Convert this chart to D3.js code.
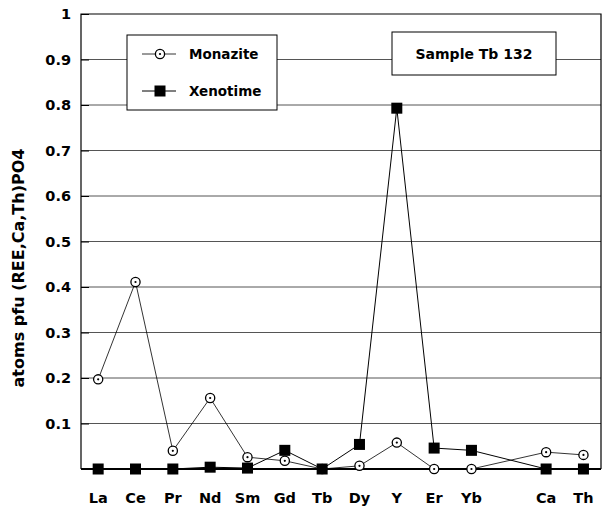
<!DOCTYPE html>
<html><head><meta charset="utf-8">
<script src="https://cdn.jsdelivr.net/npm/d3@7"></script>
<style>body{margin:0;background:#fff}svg{display:block}text{font-family:"DejaVu Sans",Arial,sans-serif;font-weight:bold;fill:#000}</style>
</head><body><svg id="c" width="602" height="508"></svg>
<script>
const categories = ["La","Ce","Pr","Nd","Sm","Gd","Tb","Dy","Y","Er","Yb","Ca","Th"];
const slots = [0,1,2,3,4,5,6,7,8,9,10,12,13];
const monazite = [0.197,0.411,0.040,0.156,0.026,0.018,0.000,0.007,0.058,0.000,0.000,0.037,0.031];
const xenotime = [0.000,0.000,0.000,0.004,0.002,0.041,0.000,0.054,0.793,0.046,0.041,0.000,0.000];
const yTicks = [0.1,0.2,0.3,0.4,0.5,0.6,0.7,0.8,0.9,1];
const seriesNames = ["Monazite","Xenotime"];
const sampleLabel = "Sample Tb 132";
const yTitle = "atoms pfu (REE,Ca,Th)PO4";

const svg = d3.select("#c");
const L=81,R=601,T=14,B=469;
const x = d3.scaleLinear().domain([-0.46,13.47]).range([L,R]);
const y = d3.scaleLinear().domain([0,1]).range([B,T]);

// gridlines
svg.append("g").selectAll("line").data(yTicks.filter(d=>d<1)).join("line")
  .attr("x1",L).attr("x2",R).attr("y1",d=>y(d)).attr("y2",d=>y(d))
  .attr("stroke","#555").attr("stroke-width",1);

// frame
svg.append("path").attr("d",`M${L},${B}V${T}H${R}V${B}`).attr("fill","none").attr("stroke","#000").attr("stroke-width",1.2);
svg.append("line").attr("x1",L).attr("x2",R).attr("y1",B).attr("y2",B).attr("stroke","#000").attr("stroke-width",2);

// y axis
const yAxis = d3.axisLeft(y).tickValues(yTicks).tickSize(-8).tickPadding(10).tickFormat(d=>d===1?"1":d3.format(".1f")(d));
const ga = svg.append("g").attr("transform",`translate(${L},0)`).call(yAxis);
ga.select(".domain").remove();
ga.selectAll(".tick line").attr("stroke","#000");
ga.selectAll(".tick text").style("font-size","14.5px").style("font-weight","bold").attr("fill","#000").attr("font-family",null);

// x labels
svg.append("g").selectAll("text").data(categories).join("text")
  .attr("x",(d,i)=>x(slots[i])).attr("y",503).attr("text-anchor","middle")
  .style("font-size","14.5px").text(d=>d);

// y title
svg.append("text").attr("transform","translate(24,268) rotate(-90)").attr("text-anchor","middle")
  .style("font-size","16px").text(yTitle);

const line = d3.line().x(d=>x(d[0])).y(d=>y(d[1]));
const mData = slots.map((s,i)=>[s,monazite[i]]);
const xData = slots.map((s,i)=>[s,xenotime[i]]);

svg.append("path").attr("d",line(xData)).attr("fill","none").attr("stroke","#000").attr("stroke-width",1);
svg.append("path").attr("d",line(mData)).attr("fill","none").attr("stroke","#000").attr("stroke-width",0.8);

function circleMarker(g,cx,cy){
  g.append("circle").attr("cx",cx).attr("cy",cy).attr("r",4.6).attr("fill","#fff").attr("stroke","#000").attr("stroke-width",1.3);
  g.append("circle").attr("cx",cx).attr("cy",cy).attr("r",1.1).attr("fill","#000");
}
function squareMarker(g,cx,cy,s){
  g.append("rect").attr("x",cx-s/2).attr("y",cy-s/2).attr("width",s).attr("height",s).attr("fill","#000");
}
const gm = svg.append("g");
mData.forEach(d=>circleMarker(gm,x(d[0]),y(d[1])));
const gx = svg.append("g");
xData.forEach(d=>squareMarker(gx,x(d[0]),y(d[1]),11));

// legend
svg.append("rect").attr("x",127).attr("y",35).attr("width",150).attr("height",75).attr("fill","#fff").attr("stroke","#000").attr("stroke-width",1);
svg.append("line").attr("x1",142).attr("x2",176).attr("y1",54).attr("y2",54).attr("stroke","#000").attr("stroke-width",0.8);
circleMarker(svg,160,54);
svg.append("text").attr("x",189).attr("y",59).style("font-size","13.5px").text(seriesNames[0]);
svg.append("line").attr("x1",142).attr("x2",176).attr("y1",91).attr("y2",91).attr("stroke","#000").attr("stroke-width",1);
squareMarker(svg,160,91,11);
svg.append("text").attr("x",189).attr("y",96).style("font-size","13.5px").text(seriesNames[1]);

// sample box
svg.append("rect").attr("x",392).attr("y",32).attr("width",164).attr("height",43).attr("fill","#fff").attr("stroke","#000").attr("stroke-width",1);
svg.append("text").attr("x",474).attr("y",59).attr("text-anchor","middle").style("font-size","14px").text(sampleLabel);
</script></body></html>
